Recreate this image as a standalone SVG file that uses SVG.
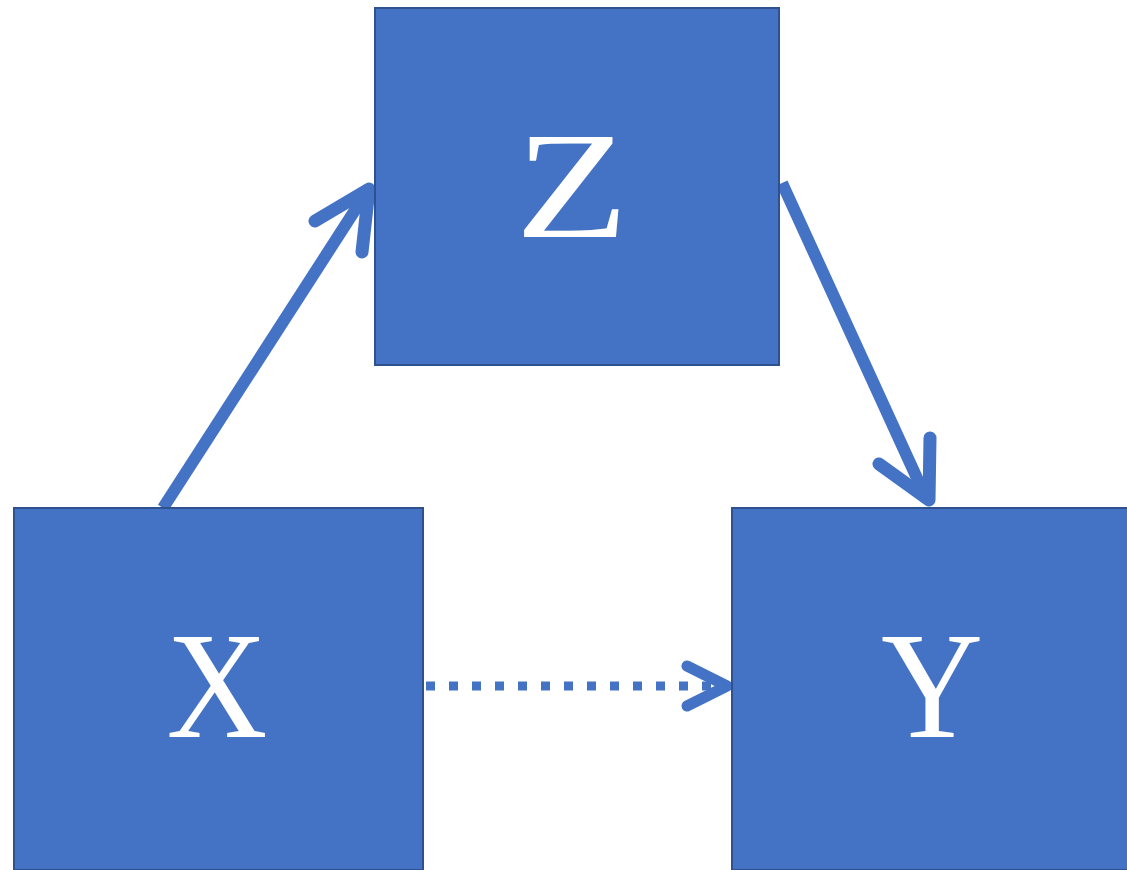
<svg xmlns="http://www.w3.org/2000/svg" width="1127" height="870" viewBox="0 0 1127 870">
<style>
.box{fill:#4472C4;stroke:#2F528F;stroke-width:2}
.lbl{font-family:"Liberation Serif","DejaVu Serif",serif;font-size:152px;fill:#fff;text-anchor:middle}
.edge{fill:none;stroke:#4472C4;stroke-width:12;stroke-linecap:butt;stroke-linejoin:round}
.head{fill:none;stroke:#4472C4;stroke-width:13;stroke-linecap:round;stroke-linejoin:round}
.dot{fill:none;stroke:#4472C4;stroke-width:9;stroke-linecap:butt;stroke-dasharray:9 14}
</style>
<rect x="0" y="0" width="1127" height="870" fill="#fff"/>
<g id="connectors">
<path class="edge" d="M163,508 L368,190"/>
<path class="head" d="M315,221 L369,189 L362,252"/>
<path class="edge" d="M782,183 L927,500"/>
<path class="head" d="M879,464 L929,500 L930,438"/>
<path class="dot" d="M426,686 L720,686"/>
<path class="head" d="M687,666 L727,686 L687,706" style="stroke-width:11"/>
</g>
<g id="node-z">
<rect class="box" x="375" y="8" width="404" height="357"/>
<text class="lbl" x="0" y="237" transform="translate(572,0) scale(1.22,1)">Z</text>
</g>
<g id="node-x">
<rect class="box" x="14" y="508" width="409" height="362"/>
<text class="lbl" x="217" y="737" transform="translate(217,0) scale(0.92,1) translate(-217,0)">X</text>
</g>
<g id="node-y">
<rect class="box" x="732" y="508" width="400" height="362"/>
<text class="lbl" x="932" y="737" transform="translate(932,0) scale(0.93,1) translate(-932,0)">Y</text>
</g>
</svg>
